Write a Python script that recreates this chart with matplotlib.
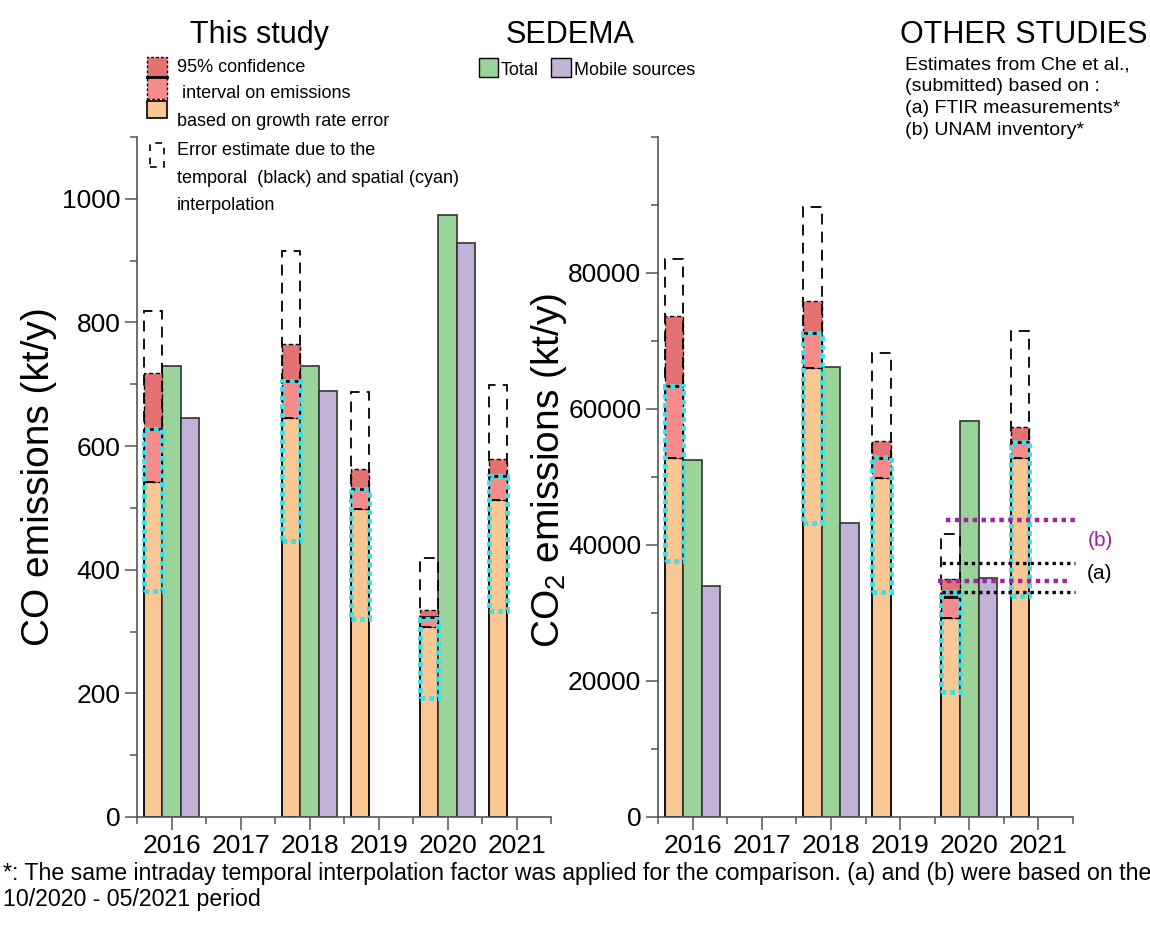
import numpy as np
import matplotlib.pyplot as plt
from matplotlib.patches import Rectangle
from matplotlib.lines import Line2D

plt.rcParams['font.family'] = ['Liberation Sans', 'DejaVu Sans']
plt.rcParams['mathtext.fontset'] = 'custom'
plt.rcParams['mathtext.rm'] = 'Liberation Sans'
plt.rcParams['mathtext.it'] = 'Liberation Sans:italic'

nan = np.nan
years = [2016, 2017, 2018, 2019, 2020, 2021]

# CO (kt/y) - this study
co_lower = [542, nan, 646, 499, 308, 513]
co_central = [628, nan, 705, 530, 323, 552]
co_upper = [718, nan, 765, 563, 335, 579]
co_temporal_top = [818, nan, 915, 687, 419, 699]
co_spatial_low = [366, nan, 447, 320, 192, 333]
co_spatial_high = [628, nan, 705, 530, 320, 552]
# CO - SEDEMA inventory
co_total = [729, nan, 729, nan, 974, nan]
co_mobile = [646, nan, 689, nan, 929, nan]

# CO2 (kt/y) - this study
co2_lower = [52830, nan, 65990, 49790, 29290, 52790]
co2_central = [63350, nan, 71120, 52800, 32400, 55110]
co2_upper = [73750, nan, 75850, 55270, 34970, 57280]
co2_temporal_top = [82040, nan, 89670, 68280, 41680, 71480]
co2_spatial_low = [37700, nan, 43290, 33160, 18440, 32490]
co2_spatial_high = [63350, nan, 71120, 52940, 33160, 55110]
# CO2 - SEDEMA inventory
co2_total = [52570, nan, 66120, nan, 58210, nan]
co2_mobile = [33950, nan, 43220, nan, 35120, nan]

# other studies (CO2, 10/2020 - 05/2021)
ftir_range = [33160, 37400]
unam_range = [34700, 43750]

ORANGE = '#F9C794'
PINK = '#F78A8B'
DARKRED = '#E57272'
GREEN = '#9AD49B'
PURPLE = '#C2B2D7'
CYAN = '#3EE0E6'
MAGENTA = '#A0239F'
W = 0.268

fig = plt.figure(figsize=(11.5, 9.27), dpi=100)
ax1 = fig.add_axes([137 / 1150, 110 / 927, 414 / 1150, 680 / 927])
ax2 = fig.add_axes([658 / 1150, 110 / 927, 415 / 1150, 680 / 927])


def panel(ax, lower, central, upper, t_top, s_low, s_high, total, mobile):
    x = np.array(years, float)
    xo = x - W
    ax.bar(xo, lower, W, color=ORANGE, edgecolor='k', lw=1.3, zorder=2)
    ax.bar(xo, np.subtract(central, lower), W, bottom=lower, color=PINK,
           edgecolor='k', lw=1.0, ls=(0, (3, 2)), zorder=3)
    ax.bar(xo, np.subtract(upper, central), W, bottom=central, color=DARKRED,
           edgecolor='k', lw=1.0, ls=(0, (3, 2)), zorder=3)
    ax.hlines(central, xo - W / 2, xo + W / 2, color='k', lw=1.8, zorder=4)
    # temporal interpolation error
    ax.bar(xo, np.subtract(t_top, lower), W, bottom=lower, fill=False,
           edgecolor='k', lw=1.3, ls=(0, (6, 4)), zorder=4)
    # spatial interpolation error
    ax.bar(xo, np.subtract(s_high, s_low), W, bottom=s_low, fill=False,
           edgecolor=CYAN, lw=3.5, ls=(0, (1, 0.8)), zorder=5)
    ax.bar(x, total, W, color=GREEN, edgecolor='#333333', lw=1.2, zorder=2)
    ax.bar(x + W, mobile, W, color=PURPLE, edgecolor='#333333', lw=1.2, zorder=2)

    ax.set_xlim(2015.5, 2021.5)
    ax.set_xticks(years)
    ax.set_xticks(np.arange(2015.5, 2022, 1), minor=True)
    for s in ('top', 'right'):
        ax.spines[s].set_visible(False)
    for s in ('left', 'bottom'):
        ax.spines[s].set_color('#555555')
        ax.spines[s].set_linewidth(1.2)
    ax.tick_params(which='major', length=9, width=1.1, color='#555555',
                   labelsize=19, pad=3)
    ax.tick_params(which='minor', length=5, width=1.1, color='#555555')


panel(ax1, co_lower, co_central, co_upper, co_temporal_top,
      co_spatial_low, co_spatial_high, co_total, co_mobile)
panel(ax2, co2_lower, co2_central, co2_upper, co2_temporal_top,
      co2_spatial_low, co2_spatial_high, co2_total, co2_mobile)

ax1.set_ylim(0, 1100)
ax1.set_yticks(np.arange(0, 1001, 200))
ax1.set_yticks(np.arange(0, 1101, 100), minor=True)
ax1.set_ylabel('CO emissions (kt/y)', fontsize=28)
ax1.yaxis.set_label_coords(-0.193, 0.5)

ax2.set_ylim(0, 100000)
ax2.set_yticks(np.arange(0, 80001, 20000))
ax2.set_yticks(np.arange(0, 100001, 10000), minor=True)
ax2.set_ylabel('CO$_2$ emissions (kt/y)', fontsize=28)
ax2.yaxis.set_label_coords(-0.214, 0.51)

# Che et al. estimates
ax2.hlines(ftir_range, years[4] - 0.39, years[5] + 0.53, colors='k',
           linestyles=(0, (1, 1.2)), lw=2.4, clip_on=False, zorder=6)
ax2.hlines(unam_range, [years[4] - 0.45, years[4] - 0.34],
           [years[5] + 0.47, years[5] + 0.57], colors=MAGENTA,
           linestyles=(0, (1, 1)), lw=3.2, clip_on=False, zorder=6)
ax2.text(years[5] + 0.72, np.mean(unam_range) + 1500, '(b)', color=MAGENTA,
         fontsize=15, va='center', clip_on=False)
ax2.text(years[5] + 0.7, np.mean(ftir_range) + 500, '(a)', color='k',
         fontsize=15, va='center', clip_on=False)


def px(x, y):
    return x / 1150, 1 - y / 927


def box(x0, y0, x1, y1, **kw):
    fig.add_artist(Rectangle(px(x0, y1), (x1 - x0) / 1150, (y1 - y0) / 927,
                             transform=fig.transFigure, **kw))


# This study
fig.text(*px(259, 43), 'This study', fontsize=22, ha='center', va='baseline')
box(147, 57, 167, 77, facecolor=DARKRED, edgecolor='k', lw=1, ls=(0, (2, 1.5)))
box(147, 77, 167, 99, facecolor=PINK, edgecolor='k', lw=1, ls=(0, (2, 1.5)))
box(147, 101, 167, 118, facecolor=ORANGE, edgecolor='k', lw=1.2)
fig.add_artist(Line2D([147 / 1150, 167 / 1150], [1 - 77 / 927] * 2,
                      color='k', lw=2, transform=fig.transFigure))
box(150, 143, 164, 167, fill=False, edgecolor='k', lw=1.2, ls=(0, (4, 4)))
for txt, y in [('95% confidence', 72), (' interval on emissions', 98),
               ('based on growth rate error', 126),
               ('Error estimate due to the', 155),
               ('temporal  (black) and spatial (cyan)', 183),
               ('interpolation', 210)]:
    fig.text(*px(177, y), txt, fontsize=13, va='baseline')

# SEDEMA
fig.text(*px(570, 43), 'SEDEMA', fontsize=22, ha='center', va='baseline')
box(479, 58, 498, 77, facecolor=GREEN, edgecolor='k', lw=1)
fig.text(*px(501, 75), 'Total', fontsize=13, va='baseline')
box(551, 58, 571, 77, facecolor=PURPLE, edgecolor='k', lw=1)
fig.text(*px(574, 75), 'Mobile sources', fontsize=13, va='baseline')

# Other studies
fig.text(*px(1024, 43), 'OTHER STUDIES', fontsize=22, ha='center', va='baseline')
for txt, y in [('Estimates from Che et al.,', 69), ('(submitted) based on :', 91),
               ('(a) FTIR measurements*', 113), ('(b) UNAM inventory*', 135)]:
    fig.text(*px(905, y), txt, fontsize=14, va='baseline')

fig.text(*px(3, 880), '*: The same intraday temporal interpolation factor was applied '
         'for the comparison. (a) and (b) were based on the', fontsize=16.7,
         va='baseline')
fig.text(*px(3, 906), '10/2020 - 05/2021 period', fontsize=16.7, va='baseline')

fig.savefig('out.png', dpi=100)
